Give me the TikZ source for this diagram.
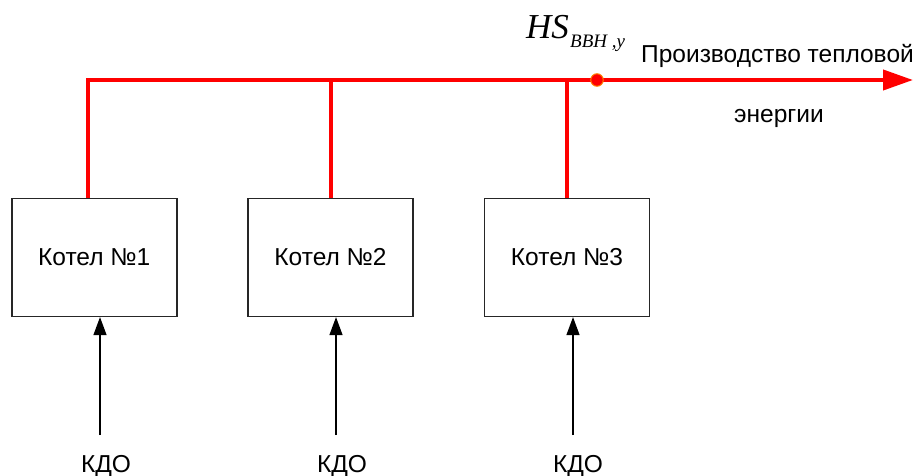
\documentclass[tikz,border=0pt]{standalone}
\usepackage{fontspec}
\setmainfont{Liberation Sans}
\newfontfamily\seriffont{Liberation Serif}
\usetikzlibrary{arrows.meta}
\begin{document}
\begin{tikzpicture}[x=1pt,y=-1pt,
  boiler/.style={draw=black!85, line width=1.6pt, minimum width=165pt, minimum height=118pt,
                 font=\fontsize{24.5}{29}\selectfont, inner sep=0pt},
  bus/.style={draw=red, line width=4pt},
  feed/.style={draw=black, line width=1.3pt, -{Triangle[length=18pt,width=13pt]}},
  lbl/.style={font=\fontsize{24.5}{29}\selectfont, inner sep=0pt}]
\useasboundingbox (0,0) rectangle (920,476);
% boilers
\node[boiler] (b1) at (94.2,257.3) {Котел №1};
\node[boiler] (b2) at (330.5,257.3) {Котел №2};
\node[boiler] (b3) at (567,257.3) {Котел №3};
% bus coordinates
\coordinate (j1) at (88,80);
\coordinate (j2) at (330.5,80);
\coordinate (j3) at (567,80);
\coordinate (tip) at (913,80);
% red bus
\draw[bus, -{Triangle[length=30pt,width=20pt]}] (b1.north -| j1) -- (j1) -- (tip);
\draw[bus] (b2.north) -- (j2);
\draw[bus] (b3.north) -- (j3);
% measuring point
\node[circle, fill=red, draw=orange, line width=1pt, minimum size=12.5pt, inner sep=0pt] (pt) at (597,80) {};
% labels
\node[anchor=base west, inner sep=0pt, font=\seriffont\itshape\fontsize{35}{35}\selectfont] (hs) at (526,39) {HS};
\node[anchor=base west, inner sep=0pt, font=\seriffont\itshape\fontsize{19}{19}\selectfont] (hssub) at (570,48) {BBH ,y};
\node[lbl, anchor=base west] (prod) at (641,63) {Производство тепловой};
\node[lbl, anchor=base] (energ) at (779,123) {энергии};
% KDO inputs
\node[lbl, anchor=base] (k1) at (106,472) {КДО};
\node[lbl, anchor=base] (k2) at (342,472) {КДО};
\node[lbl, anchor=base] (k3) at (578,472) {КДО};
\coordinate (s1) at (100,435);
\coordinate (s2) at (336,435);
\coordinate (s3) at (573,435);
\draw[feed] (s1) -- (b1.south -| s1);
\draw[feed] (s2) -- (b2.south -| s2);
\draw[feed] (s3) -- (b3.south -| s3);
\end{tikzpicture}
\end{document}
